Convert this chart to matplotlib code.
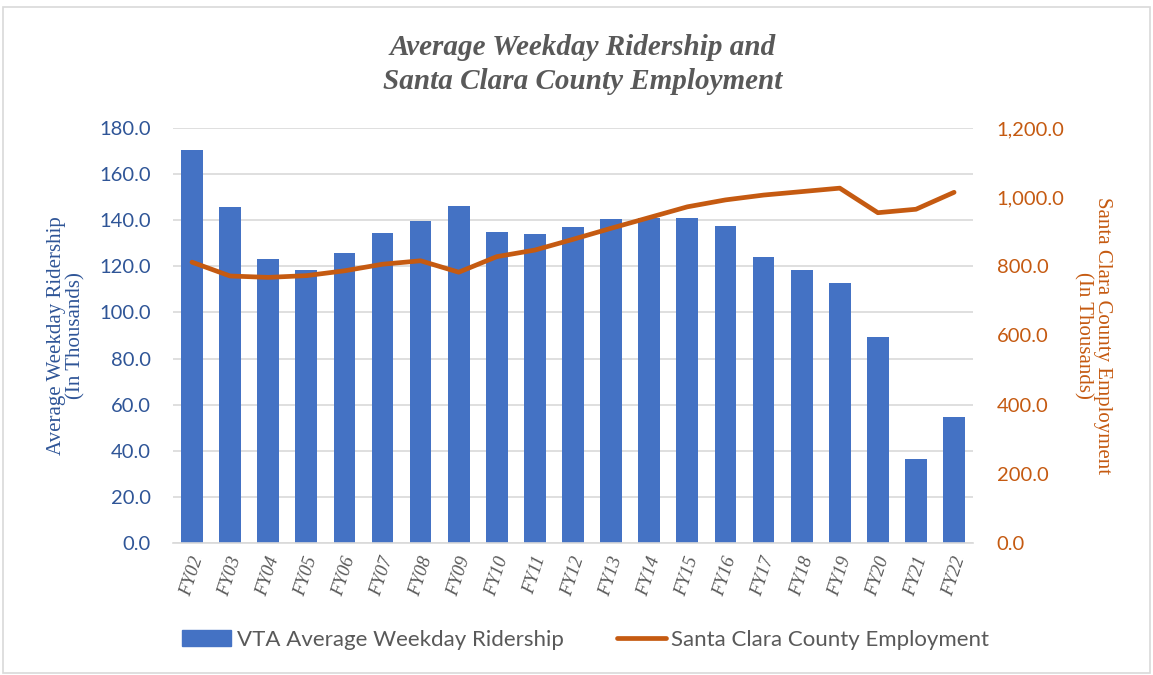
import matplotlib
matplotlib.use("Agg")
import matplotlib.pyplot as plt
from matplotlib.patches import Rectangle
from matplotlib.lines import Line2D
from matplotlib.ticker import FuncFormatter

# -----------------------------
# Data
# -----------------------------
years = ["FY02", "FY03", "FY04", "FY05", "FY06", "FY07", "FY08", "FY09", "FY10", "FY11",
         "FY12", "FY13", "FY14", "FY15", "FY16", "FY17", "FY18", "FY19", "FY20", "FY21", "FY22"]
ridership = [170.4, 145.8, 123.2, 118.4, 125.9, 134.6, 139.7, 146.1, 134.8, 133.9,
             137.2, 140.4, 141.0, 141.1, 137.4, 124.0, 118.6, 112.8, 89.5, 36.3, 54.7]
employment = [812, 772, 768, 773, 787, 806, 816, 783, 828, 847,
              878, 910, 941, 972, 992, 1006, 1016, 1026, 955, 965, 1014]

blue = "#4472C4"
dark_blue = "#2F5597"
orange = "#C55A11"
gray = "#595959"
sans = "Lato"
serif = "Liberation Serif"

# -----------------------------
# Chart
# -----------------------------
fig = plt.figure(figsize=(11.53, 6.75), dpi=100)
ax = fig.add_axes([0.150, 0.1956, 0.694, 0.6148])
ax2 = ax.twinx()

x = list(range(len(years)))
ax.bar(x, ridership, width=0.57, color=blue, zorder=2)
ax2.plot(x, employment, color=orange, linewidth=3.4, solid_capstyle="round", zorder=3)

ax.set_xlim(-0.5, len(years) - 0.5)
ax.set_ylim(0, 180)
ax.set_yticks(range(0, 181, 20))
ax2.set_ylim(0, 1200)
ax2.set_yticks(range(0, 1201, 200))

ax.yaxis.set_major_formatter(FuncFormatter(lambda v, p: f"{v:.1f}"))
ax2.yaxis.set_major_formatter(FuncFormatter(lambda v, p: f"{v:,.1f}"))

ax.grid(axis="y", color="#D9D9D9", linewidth=1.2, zorder=0)
ax.set_axisbelow(True)

for a in (ax, ax2):
    for s in a.spines.values():
        s.set_visible(False)
ax.spines["bottom"].set_visible(True)
ax.spines["bottom"].set_color("#D9D9D9")
ax.spines["bottom"].set_linewidth(1.2)

ax.tick_params(axis="both", length=0)
ax2.tick_params(axis="both", length=0)
ax.tick_params(axis="y", pad=16)
ax.tick_params(axis="x", pad=8)
ax2.tick_params(axis="y", pad=17)

ax.set_xticks(x)
ax.set_xticklabels(years, rotation=72, fontfamily=serif, fontstyle="italic",
                   fontsize=13.5, color=gray)
for lbl in ax.get_yticklabels():
    lbl.set_fontfamily(sans)
    lbl.set_fontsize(14.5)
    lbl.set_color(dark_blue)
for lbl in ax2.get_yticklabels():
    lbl.set_fontfamily(sans)
    lbl.set_fontsize(14.5)
    lbl.set_color(orange)

ax.set_ylabel("Average Weekday Ridership\n(In Thousands)", fontfamily=serif,
              fontsize=15, color=dark_blue, labelpad=10, linespacing=1.0)
ax2.set_ylabel("Santa Clara County Employment\n(In Thousands)", fontfamily=serif,
               fontsize=15, color=orange, rotation=270, labelpad=34, linespacing=1.0)

fig.suptitle("Average Weekday Ridership and\nSanta Clara County Employment",
             x=0.505, y=0.95, fontfamily=serif, fontstyle="italic", fontweight="bold",
             fontsize=21, color=gray, linespacing=1.35)

handles = [Rectangle((0, 0), 1, 1, color=blue),
           Line2D([0], [0], color=orange, linewidth=3.4, solid_capstyle="round")]
fig.legend(handles, ["VTA Average Weekday Ridership", "Santa Clara County Employment"],
           loc="center", bbox_to_anchor=(0.508, 0.052), ncol=2, frameon=False,
           prop={"family": sans, "size": 16}, labelcolor=gray,
           columnspacing=2.4, handlelength=2.2, handletextpad=0.25)

# light frame round the whole chart
fig.patches.append(Rectangle((0.003, 0.003), 0.994, 0.986, transform=fig.transFigure,
                             fill=False, edgecolor="#D9D9D9", linewidth=1.2))

fig.savefig("out.png", dpi=100)
